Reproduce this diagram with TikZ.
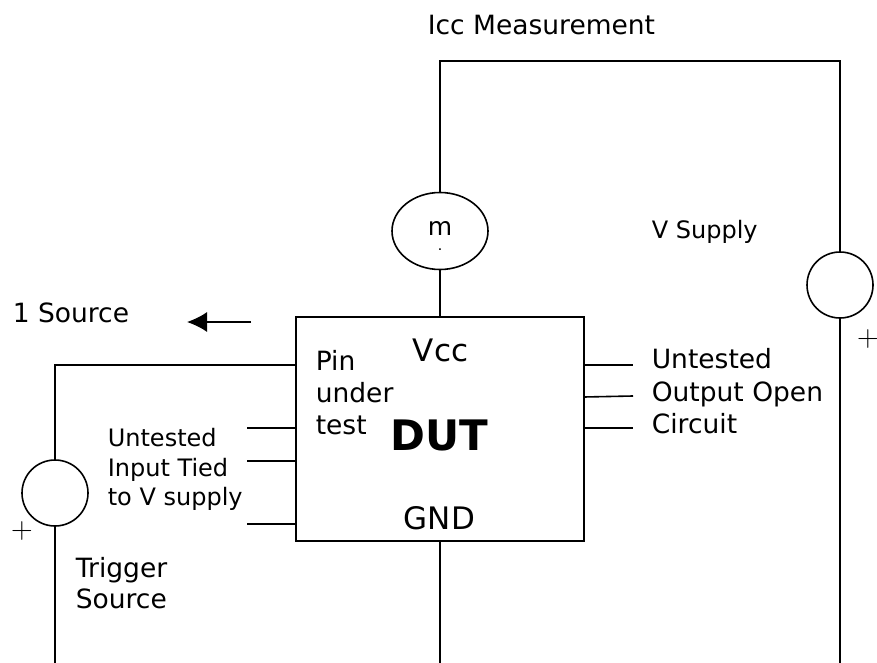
\documentclass[tikz,border=0pt]{standalone}
\usepackage{fontspec}
\setmainfont{DejaVu Sans}
\usepackage{tikz}
\usetikzlibrary{arrows.meta,shapes.geometric}
\begin{document}
\begin{tikzpicture}[x=1pt,y=-1pt,line width=1.6pt,
  lbl/.style={inner sep=0pt,anchor=base west,font=\fontsize{24}{24}\selectfont},
  biglbl/.style={lbl,font=\fontsize{26.5}{26.5}\selectfont},
  pluslbl/.style={inner sep=0pt,font=\fontfamily{lmr}\fontsize{30}{30}\selectfont},
  source/.style={draw,circle,minimum size=66pt,inner sep=0pt}]
  \useasboundingbox (0,0) rectangle (877,663);
  \node [draw,minimum width=288pt,minimum height=224pt,inner sep=0pt] (dut) at (440,429) {};
  \node [draw,ellipse,minimum width=96pt,minimum height=77pt,inner sep=0pt] (meter) at (440,231) {};
  \node [lbl,anchor=base,font=\fontsize{25}{25}\selectfont] (mlabel) at (440,235) {m};
  \node [lbl,anchor=base,font=\bfseries\fontsize{9}{9}\selectfont] (mdot) at (440,250) {.};
  \node [source] (vsource) at (840,285) {};
  \node [source] (tsource) at (55,493) {};
  \coordinate (loopa) at (440,61);
  \coordinate (loopb) at (840,61);
  \coordinate (gndend) at (440,663);
  \coordinate (vend) at (840,663);
  \coordinate (tend) at (55,663);
  \coordinate (pinin) at (296,365);
  \coordinate (pinout) at (55,365);
  \draw (meter) -- (loopa) -- (loopb) -- (vsource);
  \draw (vsource) -- (vend);
  \draw (meter) -- (dut.north -| meter);
  \draw (dut.south -| gndend) -- (gndend);
  \draw (pinin) -- (pinout) -- (tsource);
  \draw (tsource) -- (tend);
  \foreach \name/\ya/\yb in {ua/365/365,ub/397/396,uc/428/428} {
    \coordinate (\name a) at (584,\ya);
    \coordinate (\name b) at (633,\yb);
    \draw (\name a) -- (\name b);
  }
  \foreach \name/\ya/\yb in {ia/428/428,ib/461/461,ic/524/524} {
    \coordinate (\name a) at (247,\ya);
    \coordinate (\name b) at (296,\yb);
    \draw (\name a) -- (\name b);
  }
  \coordinate (arrowa) at (251,322);
  \coordinate (arrowb) at (187,322);
  \draw [-{Latex[length=20pt,width=20pt]}] (arrowa) -- (arrowb);
  \node [biglbl] (icc) at (427,35) {Icc Measurement};
  \node [lbl] (vsupply) at (651,238) {V Supply};
  \node [biglbl] (onesrc) at (12,322) {1 Source};
  \node [lbl,font=\fontsize{31}{31}\selectfont] (vcc) at (412,361) {Vcc};
  \node [lbl,font=\fontsize{31}{31}\selectfont] (gnd) at (403,529) {GND};
  \node [lbl,font=\bfseries\fontsize{42}{42}\selectfont] (dutname) at (390,450) {DUT};
  \node [biglbl] (pina) at (315,370) {Pin};
  \node [biglbl] (pinb) at (315,402) {under};
  \node [biglbl] (pinc) at (315,434) {test};
  \node [biglbl] (oa) at (651,368) {Untested};
  \node [biglbl] (ob) at (651,401) {Output Open};
  \node [biglbl] (oc) at (651,433) {Circuit};
  \node [lbl] (ta) at (107,446) {Untested};
  \node [lbl] (tb) at (107,476) {Input Tied};
  \node [lbl] (tc) at (107,505) {to V supply};
  \node [biglbl] (tra) at (75,577) {Trigger};
  \node [biglbl] (trb) at (75,608) {Source};
  \node [pluslbl] (plusa) at (868,339) {+};
  \node [pluslbl] (plusb) at (22,531) {+};
\end{tikzpicture}
\end{document}
